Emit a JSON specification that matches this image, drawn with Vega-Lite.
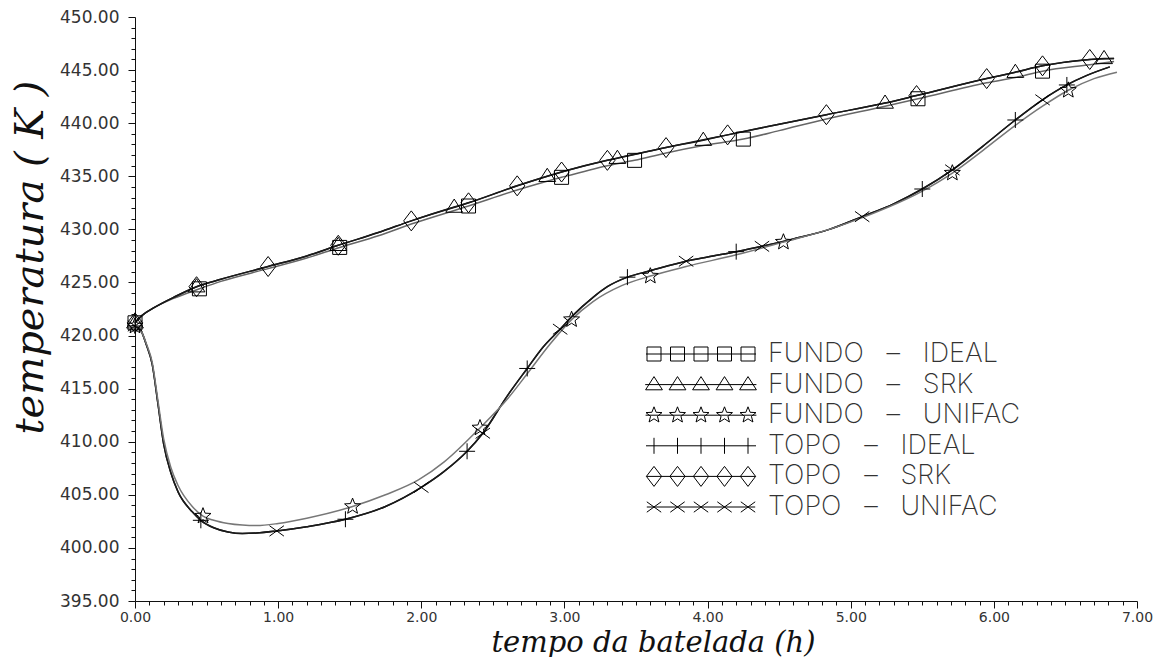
{
"$schema": "https://vega.github.io/schema/vega-lite/v6.json",
"width": 1002, "height": 584,
"autosize": {"type": "none"},
"padding": {"left": 135, "top": 17, "right": 36, "bottom": 56},
"background": "white",
"config": {"view": {"stroke": null}, "axis": {"grid": false, "domainColor": "#111", "tickColor": "#111", "labelColor": "#333"}},
"datasets": {
"lines": [
{"series":"FUNDO - IDEAL","time":0,"temp":421.2},{"series":"FUNDO - IDEAL","time":0.05,"temp":421.9},{"series":"FUNDO - IDEAL","time":0.13,"temp":422.6},{"series":"FUNDO - IDEAL","time":0.27,"temp":423.5},{"series":"FUNDO - IDEAL","time":0.45,"temp":424.4},{"series":"FUNDO - IDEAL","time":0.6,"temp":425.1},{"series":"FUNDO - IDEAL","time":0.93,"temp":426.3},{"series":"FUNDO - IDEAL","time":1.2,"temp":427.3},{"series":"FUNDO - IDEAL","time":1.43,"temp":428.3},{"series":"FUNDO - IDEAL","time":1.7,"temp":429.4},{"series":"FUNDO - IDEAL","time":1.93,"temp":430.5},{"series":"FUNDO - IDEAL","time":2.33,"temp":432.2},{"series":"FUNDO - IDEAL","time":2.67,"temp":433.7},{"series":"FUNDO - IDEAL","time":2.98,"temp":434.9},{"series":"FUNDO - IDEAL","time":3.3,"temp":436.0},{"series":"FUNDO - IDEAL","time":3.49,"temp":436.5},{"series":"FUNDO - IDEAL","time":3.71,"temp":437.2},{"series":"FUNDO - IDEAL","time":3.97,"temp":437.9},{"series":"FUNDO - IDEAL","time":4.25,"temp":438.5},{"series":"FUNDO - IDEAL","time":4.5,"temp":439.3},{"series":"FUNDO - IDEAL","time":4.83,"temp":440.4},{"series":"FUNDO - IDEAL","time":5.24,"temp":441.6},{"series":"FUNDO - IDEAL","time":5.47,"temp":442.3},{"series":"FUNDO - IDEAL","time":5.95,"temp":443.8},{"series":"FUNDO - IDEAL","time":6.15,"temp":444.3},{"series":"FUNDO - IDEAL","time":6.34,"temp":444.9},{"series":"FUNDO - IDEAL","time":6.67,"temp":445.5},{"series":"FUNDO - IDEAL","time":6.84,"temp":445.8},

{"series":"FUNDO - SRK","time":0,"temp":421.2},{"series":"FUNDO - SRK","time":0.05,"temp":421.9},{"series":"FUNDO - SRK","time":0.13,"temp":422.6},{"series":"FUNDO - SRK","time":0.27,"temp":423.6},{"series":"FUNDO - SRK","time":0.43,"temp":424.6},{"series":"FUNDO - SRK","time":0.6,"temp":425.3},{"series":"FUNDO - SRK","time":0.93,"temp":426.5},{"series":"FUNDO - SRK","time":1.2,"temp":427.5},{"series":"FUNDO - SRK","time":1.42,"temp":428.5},{"series":"FUNDO - SRK","time":1.7,"temp":429.7},{"series":"FUNDO - SRK","time":1.93,"temp":430.8},{"series":"FUNDO - SRK","time":2.23,"temp":432.1},{"series":"FUNDO - SRK","time":2.33,"temp":432.5},{"series":"FUNDO - SRK","time":2.67,"temp":434.1},{"series":"FUNDO - SRK","time":2.88,"temp":435.0},{"series":"FUNDO - SRK","time":2.98,"temp":435.4},{"series":"FUNDO - SRK","time":3.3,"temp":436.5},{"series":"FUNDO - SRK","time":3.37,"temp":436.7},{"series":"FUNDO - SRK","time":3.71,"temp":437.7},{"series":"FUNDO - SRK","time":3.97,"temp":438.4},{"series":"FUNDO - SRK","time":4.14,"temp":438.9},{"series":"FUNDO - SRK","time":4.5,"temp":439.9},{"series":"FUNDO - SRK","time":4.83,"temp":440.8},{"series":"FUNDO - SRK","time":5.24,"temp":441.9},{"series":"FUNDO - SRK","time":5.46,"temp":442.6},{"series":"FUNDO - SRK","time":5.95,"temp":444.2},{"series":"FUNDO - SRK","time":6.15,"temp":444.8},{"series":"FUNDO - SRK","time":6.34,"temp":445.4},{"series":"FUNDO - SRK","time":6.67,"temp":446.0},{"series":"FUNDO - SRK","time":6.77,"temp":446.1},{"series":"FUNDO - SRK","time":6.84,"temp":446.1},

{"series":"TOPO - SRK","time":0,"temp":421.2},{"series":"TOPO - SRK","time":0.05,"temp":421.9},{"series":"TOPO - SRK","time":0.13,"temp":422.6},{"series":"TOPO - SRK","time":0.27,"temp":423.6},{"series":"TOPO - SRK","time":0.43,"temp":424.6},{"series":"TOPO - SRK","time":0.6,"temp":425.3},{"series":"TOPO - SRK","time":0.93,"temp":426.5},{"series":"TOPO - SRK","time":1.2,"temp":427.5},{"series":"TOPO - SRK","time":1.42,"temp":428.5},{"series":"TOPO - SRK","time":1.7,"temp":429.7},{"series":"TOPO - SRK","time":1.93,"temp":430.8},{"series":"TOPO - SRK","time":2.33,"temp":432.5},{"series":"TOPO - SRK","time":2.67,"temp":434.1},{"series":"TOPO - SRK","time":2.98,"temp":435.4},{"series":"TOPO - SRK","time":3.3,"temp":436.5},{"series":"TOPO - SRK","time":3.71,"temp":437.7},{"series":"TOPO - SRK","time":4.14,"temp":438.9},{"series":"TOPO - SRK","time":4.5,"temp":439.9},{"series":"TOPO - SRK","time":4.83,"temp":440.8},{"series":"TOPO - SRK","time":5.24,"temp":441.9},{"series":"TOPO - SRK","time":5.46,"temp":442.6},{"series":"TOPO - SRK","time":5.95,"temp":444.2},{"series":"TOPO - SRK","time":6.15,"temp":444.8},{"series":"TOPO - SRK","time":6.34,"temp":445.4},{"series":"TOPO - SRK","time":6.67,"temp":446.0},{"series":"TOPO - SRK","time":6.84,"temp":446.1},

{"series":"TOPO - IDEAL","time":0,"temp":420.9},{"series":"TOPO - IDEAL","time":0.04,"temp":420.5},{"series":"TOPO - IDEAL","time":0.08,"temp":419.1},{"series":"TOPO - IDEAL","time":0.12,"temp":417.3},{"series":"TOPO - IDEAL","time":0.16,"temp":413.6},{"series":"TOPO - IDEAL","time":0.2,"temp":409.8},{"series":"TOPO - IDEAL","time":0.25,"temp":407.1},{"series":"TOPO - IDEAL","time":0.3,"temp":405.3},{"series":"TOPO - IDEAL","time":0.4,"temp":403.4},{"series":"TOPO - IDEAL","time":0.46,"temp":402.6},{"series":"TOPO - IDEAL","time":0.55,"temp":401.9},{"series":"TOPO - IDEAL","time":0.65,"temp":401.5},{"series":"TOPO - IDEAL","time":0.75,"temp":401.35},{"series":"TOPO - IDEAL","time":0.85,"temp":401.4},{"series":"TOPO - IDEAL","time":0.99,"temp":401.6},{"series":"TOPO - IDEAL","time":1.2,"temp":402.0},{"series":"TOPO - IDEAL","time":1.47,"temp":402.7},{"series":"TOPO - IDEAL","time":1.75,"temp":403.9},{"series":"TOPO - IDEAL","time":2.0,"temp":405.7},{"series":"TOPO - IDEAL","time":2.16,"temp":407.2},{"series":"TOPO - IDEAL","time":2.32,"temp":409.1},{"series":"TOPO - IDEAL","time":2.43,"temp":410.8},{"series":"TOPO - IDEAL","time":2.6,"temp":414.3},{"series":"TOPO - IDEAL","time":2.74,"temp":416.9},{"series":"TOPO - IDEAL","time":2.85,"temp":418.9},{"series":"TOPO - IDEAL","time":2.97,"temp":420.6},{"series":"TOPO - IDEAL","time":3.06,"temp":421.9},{"series":"TOPO - IDEAL","time":3.2,"temp":423.6},{"series":"TOPO - IDEAL","time":3.3,"temp":424.6},{"series":"TOPO - IDEAL","time":3.44,"temp":425.5},{"series":"TOPO - IDEAL","time":3.6,"temp":426.1},{"series":"TOPO - IDEAL","time":3.85,"temp":427.0},{"series":"TOPO - IDEAL","time":4.0,"temp":427.4},{"series":"TOPO - IDEAL","time":4.2,"temp":427.9},{"series":"TOPO - IDEAL","time":4.38,"temp":428.4},{"series":"TOPO - IDEAL","time":4.6,"temp":429.1},{"series":"TOPO - IDEAL","time":4.85,"temp":430.0},{"series":"TOPO - IDEAL","time":5.08,"temp":431.2},{"series":"TOPO - IDEAL","time":5.3,"temp":432.4},{"series":"TOPO - IDEAL","time":5.5,"temp":433.8},{"series":"TOPO - IDEAL","time":5.71,"temp":435.6},{"series":"TOPO - IDEAL","time":5.92,"temp":437.8},{"series":"TOPO - IDEAL","time":6.15,"temp":440.3},{"series":"TOPO - IDEAL","time":6.34,"temp":442.2},{"series":"TOPO - IDEAL","time":6.51,"temp":443.6},{"series":"TOPO - IDEAL","time":6.65,"temp":444.5},{"series":"TOPO - IDEAL","time":6.81,"temp":445.3},

{"series":"TOPO - UNIFAC","time":0,"temp":420.9},{"series":"TOPO - UNIFAC","time":0.04,"temp":420.5},{"series":"TOPO - UNIFAC","time":0.08,"temp":419.1},{"series":"TOPO - UNIFAC","time":0.12,"temp":417.3},{"series":"TOPO - UNIFAC","time":0.16,"temp":413.6},{"series":"TOPO - UNIFAC","time":0.2,"temp":409.8},{"series":"TOPO - UNIFAC","time":0.25,"temp":407.1},{"series":"TOPO - UNIFAC","time":0.3,"temp":405.3},{"series":"TOPO - UNIFAC","time":0.4,"temp":403.4},{"series":"TOPO - UNIFAC","time":0.46,"temp":402.6},{"series":"TOPO - UNIFAC","time":0.55,"temp":401.9},{"series":"TOPO - UNIFAC","time":0.65,"temp":401.5},{"series":"TOPO - UNIFAC","time":0.75,"temp":401.35},{"series":"TOPO - UNIFAC","time":0.85,"temp":401.4},{"series":"TOPO - UNIFAC","time":0.99,"temp":401.6},{"series":"TOPO - UNIFAC","time":1.2,"temp":402.0},{"series":"TOPO - UNIFAC","time":1.47,"temp":402.7},{"series":"TOPO - UNIFAC","time":1.75,"temp":403.9},{"series":"TOPO - UNIFAC","time":2.0,"temp":405.7},{"series":"TOPO - UNIFAC","time":2.16,"temp":407.2},{"series":"TOPO - UNIFAC","time":2.32,"temp":409.1},{"series":"TOPO - UNIFAC","time":2.43,"temp":410.8},{"series":"TOPO - UNIFAC","time":2.6,"temp":414.3},{"series":"TOPO - UNIFAC","time":2.74,"temp":416.9},{"series":"TOPO - UNIFAC","time":2.85,"temp":418.9},{"series":"TOPO - UNIFAC","time":2.97,"temp":420.6},{"series":"TOPO - UNIFAC","time":3.06,"temp":421.9},{"series":"TOPO - UNIFAC","time":3.2,"temp":423.6},{"series":"TOPO - UNIFAC","time":3.3,"temp":424.6},{"series":"TOPO - UNIFAC","time":3.44,"temp":425.5},{"series":"TOPO - UNIFAC","time":3.6,"temp":426.1},{"series":"TOPO - UNIFAC","time":3.85,"temp":427.0},{"series":"TOPO - UNIFAC","time":4.0,"temp":427.4},{"series":"TOPO - UNIFAC","time":4.2,"temp":427.9},{"series":"TOPO - UNIFAC","time":4.38,"temp":428.4},{"series":"TOPO - UNIFAC","time":4.6,"temp":429.1},{"series":"TOPO - UNIFAC","time":4.85,"temp":430.0},{"series":"TOPO - UNIFAC","time":5.08,"temp":431.2},{"series":"TOPO - UNIFAC","time":5.3,"temp":432.4},{"series":"TOPO - UNIFAC","time":5.5,"temp":433.8},{"series":"TOPO - UNIFAC","time":5.71,"temp":435.6},{"series":"TOPO - UNIFAC","time":5.92,"temp":437.8},{"series":"TOPO - UNIFAC","time":6.15,"temp":440.3},{"series":"TOPO - UNIFAC","time":6.34,"temp":442.2},{"series":"TOPO - UNIFAC","time":6.51,"temp":443.6},{"series":"TOPO - UNIFAC","time":6.65,"temp":444.5},{"series":"TOPO - UNIFAC","time":6.81,"temp":445.3},

{"series":"FUNDO - UNIFAC","time":0,"temp":420.9},{"series":"FUNDO - UNIFAC","time":0.04,"temp":420.5},{"series":"FUNDO - UNIFAC","time":0.08,"temp":419.2},{"series":"FUNDO - UNIFAC","time":0.12,"temp":417.5},{"series":"FUNDO - UNIFAC","time":0.16,"temp":413.9},{"series":"FUNDO - UNIFAC","time":0.2,"temp":410.3},{"series":"FUNDO - UNIFAC","time":0.25,"temp":407.6},{"series":"FUNDO - UNIFAC","time":0.3,"temp":405.9},{"series":"FUNDO - UNIFAC","time":0.4,"temp":403.9},{"series":"FUNDO - UNIFAC","time":0.475,"temp":403.0},{"series":"FUNDO - UNIFAC","time":0.55,"temp":402.6},{"series":"FUNDO - UNIFAC","time":0.65,"temp":402.3},{"series":"FUNDO - UNIFAC","time":0.75,"temp":402.15},{"series":"FUNDO - UNIFAC","time":0.85,"temp":402.1},{"series":"FUNDO - UNIFAC","time":1.0,"temp":402.3},{"series":"FUNDO - UNIFAC","time":1.2,"temp":402.8},{"series":"FUNDO - UNIFAC","time":1.52,"temp":403.9},{"series":"FUNDO - UNIFAC","time":1.75,"temp":405.0},{"series":"FUNDO - UNIFAC","time":1.98,"temp":406.4},{"series":"FUNDO - UNIFAC","time":2.16,"temp":408.1},{"series":"FUNDO - UNIFAC","time":2.41,"temp":411.3},{"series":"FUNDO - UNIFAC","time":2.6,"temp":414.0},{"series":"FUNDO - UNIFAC","time":2.74,"temp":416.4},{"series":"FUNDO - UNIFAC","time":2.9,"temp":419.2},{"series":"FUNDO - UNIFAC","time":3.05,"temp":421.5},{"series":"FUNDO - UNIFAC","time":3.2,"temp":423.2},{"series":"FUNDO - UNIFAC","time":3.4,"temp":424.7},{"series":"FUNDO - UNIFAC","time":3.6,"temp":425.6},{"series":"FUNDO - UNIFAC","time":3.85,"temp":426.5},{"series":"FUNDO - UNIFAC","time":4.2,"temp":427.6},{"series":"FUNDO - UNIFAC","time":4.53,"temp":428.8},{"series":"FUNDO - UNIFAC","time":4.85,"temp":430.0},{"series":"FUNDO - UNIFAC","time":5.1,"temp":431.2},{"series":"FUNDO - UNIFAC","time":5.5,"temp":433.6},{"series":"FUNDO - UNIFAC","time":5.71,"temp":435.3},{"series":"FUNDO - UNIFAC","time":5.92,"temp":437.4},{"series":"FUNDO - UNIFAC","time":6.15,"temp":439.8},{"series":"FUNDO - UNIFAC","time":6.34,"temp":441.6},{"series":"FUNDO - UNIFAC","time":6.52,"temp":443.1},{"series":"FUNDO - UNIFAC","time":6.7,"temp":444.2},{"series":"FUNDO - UNIFAC","time":6.86,"temp":444.8}
],
"markers": [
{"series":"FUNDO - IDEAL","time":0,"temp":421.2},{"series":"FUNDO - IDEAL","time":0.45,"temp":424.4},{"series":"FUNDO - IDEAL","time":1.43,"temp":428.3},{"series":"FUNDO - IDEAL","time":2.33,"temp":432.2},{"series":"FUNDO - IDEAL","time":2.98,"temp":434.9},{"series":"FUNDO - IDEAL","time":3.49,"temp":436.5},{"series":"FUNDO - IDEAL","time":4.25,"temp":438.5},{"series":"FUNDO - IDEAL","time":5.47,"temp":442.3},{"series":"FUNDO - IDEAL","time":6.34,"temp":444.9},
{"series":"FUNDO - SRK","time":0,"temp":421.2},{"series":"FUNDO - SRK","time":0.43,"temp":424.6},{"series":"FUNDO - SRK","time":1.42,"temp":428.5},{"series":"FUNDO - SRK","time":2.23,"temp":432.1},{"series":"FUNDO - SRK","time":2.88,"temp":435.0},{"series":"FUNDO - SRK","time":3.37,"temp":436.7},{"series":"FUNDO - SRK","time":3.97,"temp":438.4},{"series":"FUNDO - SRK","time":5.24,"temp":441.9},{"series":"FUNDO - SRK","time":6.15,"temp":444.8},{"series":"FUNDO - SRK","time":6.77,"temp":446.1},
{"series":"FUNDO - UNIFAC","time":0,"temp":420.9},{"series":"FUNDO - UNIFAC","time":0.475,"temp":403.0},{"series":"FUNDO - UNIFAC","time":1.52,"temp":403.9},{"series":"FUNDO - UNIFAC","time":2.41,"temp":411.3},{"series":"FUNDO - UNIFAC","time":3.05,"temp":421.5},{"series":"FUNDO - UNIFAC","time":3.6,"temp":425.6},{"series":"FUNDO - UNIFAC","time":4.53,"temp":428.8},{"series":"FUNDO - UNIFAC","time":5.71,"temp":435.3},{"series":"FUNDO - UNIFAC","time":6.52,"temp":443.1},
{"series":"TOPO - IDEAL","time":0,"temp":420.9},{"series":"TOPO - IDEAL","time":0.46,"temp":402.6},{"series":"TOPO - IDEAL","time":1.47,"temp":402.7},{"series":"TOPO - IDEAL","time":2.32,"temp":409.1},{"series":"TOPO - IDEAL","time":2.74,"temp":416.9},{"series":"TOPO - IDEAL","time":3.44,"temp":425.5},{"series":"TOPO - IDEAL","time":4.2,"temp":427.9},{"series":"TOPO - IDEAL","time":5.5,"temp":433.8},{"series":"TOPO - IDEAL","time":6.15,"temp":440.3},{"series":"TOPO - IDEAL","time":6.51,"temp":443.6},
{"series":"TOPO - SRK","time":0,"temp":421.2},{"series":"TOPO - SRK","time":0.43,"temp":424.6},{"series":"TOPO - SRK","time":0.93,"temp":426.5},{"series":"TOPO - SRK","time":1.42,"temp":428.5},{"series":"TOPO - SRK","time":1.93,"temp":430.8},{"series":"TOPO - SRK","time":2.33,"temp":432.5},{"series":"TOPO - SRK","time":2.67,"temp":434.1},{"series":"TOPO - SRK","time":2.98,"temp":435.4},{"series":"TOPO - SRK","time":3.3,"temp":436.5},{"series":"TOPO - SRK","time":3.71,"temp":437.7},{"series":"TOPO - SRK","time":4.14,"temp":438.9},{"series":"TOPO - SRK","time":4.83,"temp":440.8},{"series":"TOPO - SRK","time":5.46,"temp":442.6},{"series":"TOPO - SRK","time":5.95,"temp":444.2},{"series":"TOPO - SRK","time":6.34,"temp":445.4},{"series":"TOPO - SRK","time":6.67,"temp":446.0},
{"series":"TOPO - UNIFAC","time":0,"temp":420.9},{"series":"TOPO - UNIFAC","time":0.99,"temp":401.6},{"series":"TOPO - UNIFAC","time":2.0,"temp":405.7},{"series":"TOPO - UNIFAC","time":2.43,"temp":410.8},{"series":"TOPO - UNIFAC","time":2.97,"temp":420.6},{"series":"TOPO - UNIFAC","time":3.85,"temp":427.0},{"series":"TOPO - UNIFAC","time":4.38,"temp":428.4},{"series":"TOPO - UNIFAC","time":5.08,"temp":431.2},{"series":"TOPO - UNIFAC","time":5.71,"temp":435.6},{"series":"TOPO - UNIFAC","time":6.34,"temp":442.2}
]
},
"layer": [
{
"data": {"name": "lines"},
"mark": {"type": "line", "interpolate": "monotone", "strokeWidth": 1.5},
"encoding": {
"x": {"field": "time", "type": "quantitative", "title": "tempo da batelada (h)",
 "scale": {"domain": [0, 7], "nice": false, "zero": false},
 "axis": {
  "values": [0,0.1,0.2,0.3,0.4,0.5,0.6,0.7,0.8,0.9,1,1.1,1.2,1.3,1.4,1.5,1.6,1.7,1.8,1.9,2,2.1,2.2,2.3,2.4,2.5,2.6,2.7,2.8,2.9,3,3.1,3.2,3.3,3.4,3.5,3.6,3.7,3.8,3.9,4,4.1,4.2,4.3,4.4,4.5,4.6,4.7,4.8,4.9,5,5.1,5.2,5.3,5.4,5.5,5.6,5.7,5.8,5.9,6,6.1,6.2,6.3,6.4,6.5,6.6,6.7,6.8,6.9,7],
  "tickCount": 500,
  "labelExpr": "abs(datum.value - round(datum.value)) < 0.001 ? format(datum.value, '.2f') : ''",
  "tickSize": {"condition": {"test": "abs(datum.value - round(datum.value)) < 0.001", "value": 7}, "value": 4},
  "labelFont": "DejaVu Sans", "labelFontSize": 14, "labelPadding": 2, "labelOverlap": false, "labelFlush": false, "labelBound": false,
  "titleFont": "DejaVu Serif", "titleFontStyle": "italic", "titleFontSize": 29, "titleFontWeight": "normal", "titleColor": "#111",
  "titleX": 518, "titleY": 50, "titleBaseline": "alphabetic", "titleAlign": "center"
 }},
"y": {"field": "temp", "type": "quantitative", "title": "temperatura ( K )",
 "scale": {"domain": [395, 450], "nice": false, "zero": false},
 "axis": {
  "values": [395,396,397,398,399,400,401,402,403,404,405,406,407,408,409,410,411,412,413,414,415,416,417,418,419,420,421,422,423,424,425,426,427,428,429,430,431,432,433,434,435,436,437,438,439,440,441,442,443,444,445,446,447,448,449,450],
  "tickCount": 500,
  "labelExpr": "datum.value % 5 === 0 ? format(datum.value, '.2f') : ''",
  "tickSize": {"condition": {"test": "datum.value % 5 === 0", "value": 7}, "value": 4},
  "labelFont": "DejaVu Sans", "labelFontSize": 17, "labelPadding": 9, "labelOverlap": false, "labelFlush": false, "labelBound": false,
  "titleFont": "DejaVu Serif", "titleFontStyle": "italic", "titleFontSize": 40, "titleFontWeight": "normal", "titleColor": "#111",
  "titleX": -105, "titleY": 240, "titleBaseline": "middle", "titleAlign": "center", "titleAngle": -90
 }},
"detail": {"field": "series"},
"color": {"field": "series", "type": "nominal", "legend": null,
 "scale": {"domain": ["FUNDO - IDEAL","FUNDO - SRK","FUNDO - UNIFAC","TOPO - IDEAL","TOPO - SRK","TOPO - UNIFAC"], "range": ["#666666","#1a1a1a","#777777","#1a1a1a","#1a1a1a","#1a1a1a"]}}
}
},
{
"data": {"name": "markers"},
"mark": {"type": "point", "filled": false, "size": 64, "strokeWidth": 1, "color": "black", "opacity": 1},
"encoding": {
"x": {"field": "time", "type": "quantitative", "title": "tempo da batelada (h)", "scale": {"domain": [0, 7], "nice": false, "zero": false}},
"y": {"field": "temp", "type": "quantitative", "title": "temperatura ( K )", "scale": {"domain": [395, 450], "nice": false, "zero": false}},
"shape": {"field": "series", "type": "nominal", "legend": null,
 "scale": {"domain": ["FUNDO - IDEAL","FUNDO - SRK","FUNDO - UNIFAC","TOPO - IDEAL","TOPO - SRK","TOPO - UNIFAC"],
  "range": [
   "M-1.75,-1.75h3.5v3.5h-3.5Z",
   "M0,-2L2.1,1.3L-2.1,1.3Z",
   "M0,-2.1l0.529,1.372l1.468,0.079l-1.141,0.927l0.378,1.421l-1.234,-0.799l-1.234,0.799l0.378,-1.421l-1.141,-0.927l1.468,-0.079z",
   "M-2,0H2M0,-2V2",
   "M0,-2.5L1.9,0L0,2.5L-1.9,0Z",
   "M-1.8,-1.3L1.8,1.3M-1.8,1.3L1.8,-1.3"
  ]}}
}
},
{
"data": {"name": "markers"},
"transform": [{"filter": "false"}],
"mark": {"type": "point", "filled": false, "size": 64, "strokeWidth": 1, "color": "black", "opacity": 1},
"encoding": {
"x": {"field": "time", "type": "quantitative", "title": "tempo da batelada (h)", "scale": {"domain": [0, 7], "nice": false, "zero": false}},
"y": {"field": "temp", "type": "quantitative", "title": "temperatura ( K )", "scale": {"domain": [395, 450], "nice": false, "zero": false}},
"shape": {"field": "series", "type": "nominal",
 "scale": {"domain": ["FUNDO - IDEAL","FUNDO - SRK","FUNDO - UNIFAC","TOPO - IDEAL","TOPO - SRK","TOPO - UNIFAC"],
  "range": [
   "M-2,0H25.5M-1.75,-1.75h3.5v3.5h-3.5ZM4.125,-1.75h3.5v3.5h-3.5ZM10,-1.75h3.5v3.5h-3.5ZM15.875,-1.75h3.5v3.5h-3.5ZM21.75,-1.75h3.5v3.5h-3.5Z",
   "M-2.2,0H25.6M0,-2L2.1,1.3L-2.1,1.3ZM5.875,-2L7.975,1.3L3.775,1.3ZM11.75,-2L13.85,1.3L9.65,1.3ZM17.625,-2L19.725,1.3L15.525,1.3ZM23.5,-2L25.6,1.3L21.4,1.3Z",
   "M-2.1,0H25.6M0,-2.1l0.529,1.372l1.468,0.079l-1.141,0.927l0.378,1.421l-1.234,-0.799l-1.234,0.799l0.378,-1.421l-1.141,-0.927l1.468,-0.079zM5.875,-2.1l0.529,1.372l1.468,0.079l-1.141,0.927l0.378,1.421l-1.234,-0.799l-1.234,0.799l0.378,-1.421l-1.141,-0.927l1.468,-0.079zM11.75,-2.1l0.529,1.372l1.468,0.079l-1.141,0.927l0.378,1.421l-1.234,-0.799l-1.234,0.799l0.378,-1.421l-1.141,-0.927l1.468,-0.079zM17.625,-2.1l0.529,1.372l1.468,0.079l-1.141,0.927l0.378,1.421l-1.234,-0.799l-1.234,0.799l0.378,-1.421l-1.141,-0.927l1.468,-0.079zM23.5,-2.1l0.529,1.372l1.468,0.079l-1.141,0.927l0.378,1.421l-1.234,-0.799l-1.234,0.799l0.378,-1.421l-1.141,-0.927l1.468,-0.079z",
   "M-2,0H25.5M0,-2V2M5.875,-2V2M11.75,-2V2M17.625,-2V2M23.5,-2V2",
   "M-1.9,0H25.4M0,-2.5l1.9,2.5l-1.9,2.5l-1.9,-2.5zM5.875,-2.5l1.9,2.5l-1.9,2.5l-1.9,-2.5zM11.75,-2.5l1.9,2.5l-1.9,2.5l-1.9,-2.5zM17.625,-2.5l1.9,2.5l-1.9,2.5l-1.9,-2.5zM23.5,-2.5l1.9,2.5l-1.9,2.5l-1.9,-2.5z",
   "M-1.8,0H25.3M-1.8,-1.3l3.6,2.6m0,-2.6l-3.6,2.6M4.075,-1.3l3.6,2.6m0,-2.6l-3.6,2.6M9.95,-1.3l3.6,2.6m0,-2.6l-3.6,2.6M15.825,-1.3l3.6,2.6m0,-2.6l-3.6,2.6M21.7,-1.3l3.6,2.6m0,-2.6l-3.6,2.6"
  ]},
 "legend": {"orient": "none", "legendX": 505.5, "legendY": 323.5, "title": null, "padding": 0,
  "symbolSize": 64, "symbolStrokeWidth": 1, "symbolStrokeColor": "black", "symbolFillColor": "transparent", "symbolOffset": 0,
  "labelFont": "Inter", "labelFontSize": 27, "labelFontWeight": 200, "labelColor": "#333", "labelOffset": 100.5, "labelLimit": 600,
  "rowPadding": 2.6, "symbolLimit": 0,
  "labelExpr": "replace(datum.label, ' - ', '\u00a0\u00a0\u00a0\u2013\u00a0\u00a0\u00a0')"}}
}
}
],
"resolve": {"scale": {"shape": "independent"}}
}
